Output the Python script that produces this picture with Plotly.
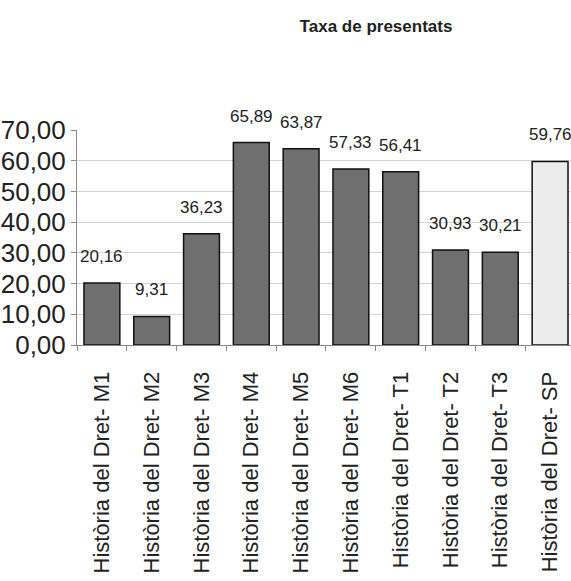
import plotly.graph_objects as go

categories = ["Història del Dret- M1", "Història del Dret- M2", "Història del Dret- M3",
              "Història del Dret- M4", "Història del Dret- M5", "Història del Dret- M6",
              "Història del Dret- T1", "Història del Dret- T2", "Història del Dret- T3",
              "Història del Dret- SP"]
values = [20.16, 9.31, 36.23, 65.89, 63.87, 57.33, 56.41, 30.93, 30.21, 59.76]
bar_colors = ["#6f6f6f"] * 9 + ["#ececec"]
title = "Taxa de presentats"

sans = "Liberation Sans, Arial, sans-serif"

fig = go.Figure()
fig.add_trace(go.Bar(
    x=categories, y=values,
    marker=dict(color=bar_colors, line=dict(color="#111111", width=1.5)),
    width=0.72,
))

for c, v in zip(categories, values):
    fig.add_annotation(x=c, y=v, text=f"{v:.2f}".replace(".", ","), showarrow=False,
                       yanchor="bottom", yshift=15,
                       font=dict(family=sans, size=17, color="#222222"))

fig.update_layout(
    width=571, height=581,
    margin=dict(l=77, r=0, t=130, b=236),
    paper_bgcolor="white", plot_bgcolor="white",
    separators=",.",
    showlegend=False,
    title=dict(text=f"<b>{title}</b>", x=376/571, xanchor="center",
               y=1 - 26/581, yanchor="middle",
               font=dict(family=sans, size=17, color="#222222")),
)
fig.update_xaxes(
    range=[-0.5, 9.42],
    tickangle=-90,
    tickfont=dict(family=sans, size=22, color="#222222"),
    ticks="outside", tickson="boundaries", ticklen=5, tickcolor="#888888",
    ticklabelstandoff=17,
    showline=True, linecolor="#888888", linewidth=1,
    showgrid=False, automargin=False,
)
fig.update_yaxes(
    range=[0, 70], dtick=10, tickformat=".2f",
    tickfont=dict(family=sans, size=26, color="#222222"),
    ticks="outside", ticklen=5, tickcolor="#888888",
    showline=True, linecolor="#888888", linewidth=1,
    showgrid=True, gridcolor="#d4d4d4", gridwidth=1,
    zeroline=False, automargin=False,
)

fig.write_html("out.html", config={"displayModeBar": False},
               post_script="document.body.style.margin='0';document.body.style.overflow='hidden';")
